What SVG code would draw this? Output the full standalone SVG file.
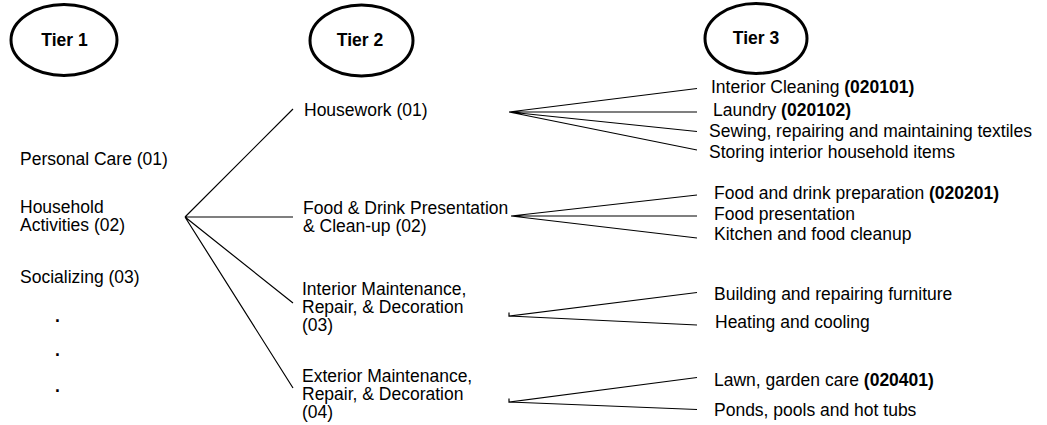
<svg xmlns="http://www.w3.org/2000/svg" width="1047" height="425" viewBox="0 0 1047 425">
  <style>
    text { font-family: "Liberation Sans", Arial, sans-serif; font-size: 17.5px; fill: #000; }
    .tier { fill: #fff; stroke: #000; stroke-width: 3; }
    .tier-label { font-weight: bold; text-anchor: middle; }
    .code { font-weight: bold; }
    .dot { font-weight: bold; }
    .link { fill: none; stroke: #000; stroke-width: 1.2; }
  </style>
  <rect width="1047" height="425" fill="#fff"/>

  <!-- tier headers -->
  <g id="tier1">
    <ellipse class="tier" cx="64" cy="40" rx="53" ry="35.5"/>
    <text class="tier-label" x="64.5" y="46">Tier 1</text>
  </g>
  <g id="tier2">
    <ellipse class="tier" cx="361.5" cy="40.5" rx="51.5" ry="35.5"/>
    <text class="tier-label" x="360" y="46">Tier 2</text>
  </g>
  <g id="tier3">
    <ellipse class="tier" cx="756" cy="38.5" rx="51" ry="35"/>
    <text class="tier-label" x="756" y="44">Tier 3</text>
  </g>

  <!-- connectors -->
  <g id="connectors" class="link">
    <!-- Household Activities -> tier 2 -->
    <path d="M185 217 L293 109 M185 217 L293 217 M185 217 L293 303 M185 217 L293 388"/>
    <!-- Housework -> tier 3 -->
    <path d="M509 112 L697 88.5 M509 112 L697 112 M509 112 L697 131.5 M509 112 L697 150"/>
    <!-- Food & Drink -> tier 3 -->
    <path d="M511 216 L697 195 M511 216 L697 216 M511 216 L697 238"/>
    <!-- Interior Maintenance -> tier 3 -->
    <path d="M509 312.5 L509 316 L697 292.5 M509 316 L697 325"/>
    <!-- Exterior Maintenance -> tier 3 -->
    <path d="M509 398.5 L509 402 L697 377.5 M509 402 L697 409.5"/>
  </g>

  <!-- tier 1 categories -->
  <g id="personal-care">
    <text x="20" y="165">Personal Care (01)</text>
  </g>
  <g id="household-activities">
    <text x="20" y="212.5">Household</text>
    <text x="20" y="230.5">Activities (02)</text>
  </g>
  <g id="socializing">
    <text x="20" y="283">Socializing (03)</text>
  </g>
  <g id="more-categories">
    <text class="dot" x="55" y="322">.</text>
    <text class="dot" x="55" y="356">.</text>
    <text class="dot" x="55" y="392">.</text>
  </g>

  <!-- tier 2 categories -->
  <g id="housework">
    <text x="304" y="116">Housework (01)</text>
  </g>
  <g id="food-drink">
    <text x="303" y="214">Food &amp; Drink Presentation</text>
    <text x="303" y="232">&amp; Clean-up (02)</text>
  </g>
  <g id="interior-maintenance">
    <text x="302" y="295">Interior Maintenance,</text>
    <text x="302" y="313">Repair, &amp; Decoration</text>
    <text x="302" y="331">(03)</text>
  </g>
  <g id="exterior-maintenance">
    <text x="302" y="382">Exterior Maintenance,</text>
    <text x="302" y="400">Repair, &amp; Decoration</text>
    <text x="302" y="418">(04)</text>
  </g>

  <!-- tier 3 activities -->
  <g id="interior-cleaning">
    <text x="711" y="93">Interior Cleaning <tspan class="code">(020101)</tspan></text>
  </g>
  <g id="laundry">
    <text x="713" y="116">Laundry <tspan class="code">(020102)</tspan></text>
  </g>
  <g id="sewing">
    <text x="709" y="137">Sewing, repairing and maintaining textiles</text>
  </g>
  <g id="storing">
    <text x="709" y="158">Storing interior household items</text>
  </g>
  <g id="food-prep">
    <text x="714" y="199">Food and drink preparation <tspan class="code">(020201)</tspan></text>
  </g>
  <g id="food-presentation">
    <text x="714" y="220">Food presentation</text>
  </g>
  <g id="kitchen-cleanup">
    <text x="714" y="240">Kitchen and food cleanup</text>
  </g>
  <g id="furniture">
    <text x="714" y="300">Building and repairing furniture</text>
  </g>
  <g id="heating-cooling">
    <text x="715" y="328">Heating and cooling</text>
  </g>
  <g id="lawn-garden">
    <text x="714" y="386">Lawn, garden care <tspan class="code">(020401)</tspan></text>
  </g>
  <g id="ponds-pools">
    <text x="714" y="416">Ponds, pools and hot tubs</text>
  </g>
</svg>
